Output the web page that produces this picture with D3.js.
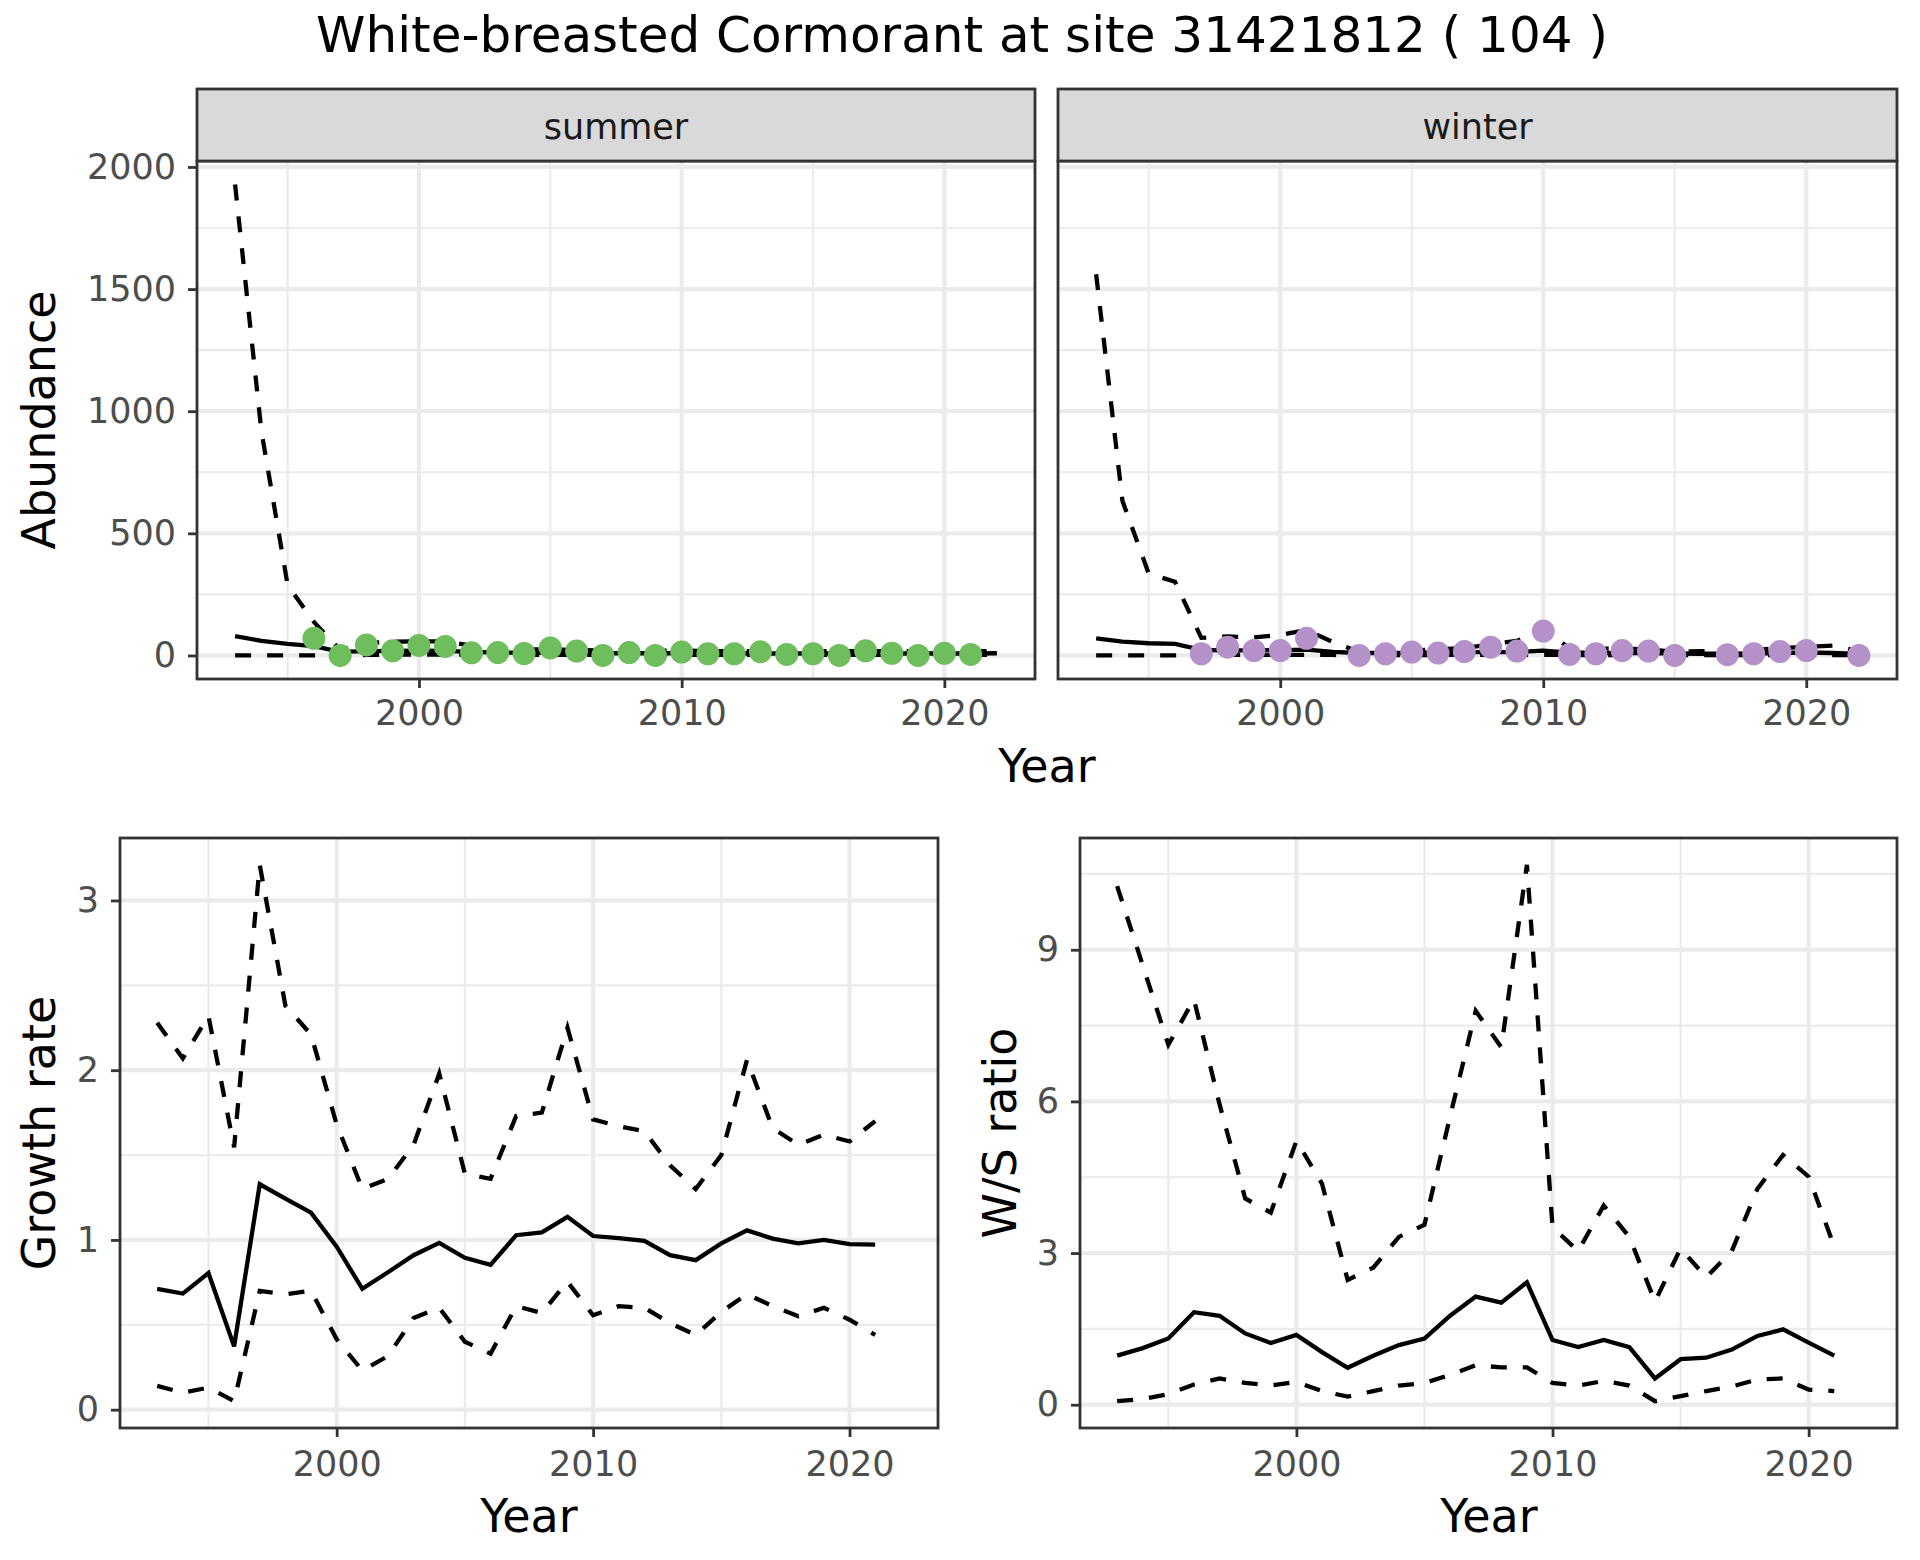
<!DOCTYPE html>
<html>
<head>
<meta charset="utf-8">
<script src="https://cdn.jsdelivr.net/npm/d3@7"></script>
<style>
  body { margin: 0; background: #fff; }
  text { font-family: "DejaVu Sans", sans-serif; }
</style>
</head>
<body>
<svg id="chart" width="1920" height="1560"></svg>
<script>
// ---- data ----
const years = [1993, 1994, 1995, 1996, 1997, 1998, 1999, 2000, 2001, 2002, 2003, 2004, 2005, 2006, 2007,
  2008, 2009, 2010, 2011, 2012, 2013, 2014, 2015, 2016, 2017, 2018, 2019, 2020, 2021, 2022]

// abundance model (mean and bounds), 1993-2022
const summerMean = [79, 60, 47, 38, 15, 18, 19, 20, 19, 15, 12, 11, 11, 10, 9, 9, 9, 9, 8, 8, 8, 8, 8, 8, 9, 8, 8, 8, 8, 9]
const summerLow = [0, 0, 0, 0, 1, 2, 3, 3, 3, 3, 2, 2, 2, 2, 2, 2, 2, 2, 2, 2, 2, 2, 2, 2, 2, 2, 2, 2, 2, 2]
const summerHigh = [1928, 920, 288, 137, 22, 52, 56, 58, 58, 40, 28, 25, 25, 22, 20, 20, 20, 20, 18, 18, 18, 18, 18, 18, 18, 18, 18, 18, 18, 18]
const winterMean = [70, 57, 50, 47, 23, 20, 22, 22, 24, 15, 10, 10, 10, 12, 14, 14, 14, 20, 12, 10, 10, 10, 8, 7, 7, 8, 10, 12, 10, 6]
const winterLow = [0, 0, 0, 0, 1, 2, 2, 2, 2, 2, 1, 1, 1, 2, 2, 2, 2, 2, 2, 1, 1, 1, 1, 1, 1, 1, 1, 1, 1, 1]
const winterHigh = [1561, 633, 335, 302, 72, 78, 74, 84, 104, 55, 15, 18, 20, 25, 30, 45, 60, 105, 30, 28, 28, 25, 15, 18, 18, 22, 30, 35, 40, 18]

// observed counts
const summerYears = [1996, 1997, 1998, 1999, 2000, 2001, 2002, 2003, 2004, 2005, 2006, 2007, 2008,
  2009, 2010, 2011, 2012, 2013, 2014, 2015, 2016, 2017, 2018, 2019, 2020, 2021]
const summerCounts = [70, 0, 43, 19, 41, 37, 11, 12, 8, 31, 18, 0, 12, 0, 14, 7, 7, 15, 4, 7, 0, 19, 9, 0, 9, 4]
const winterYears = [1997, 1998, 1999, 2000, 2001, 2003, 2004, 2005, 2006, 2007, 2008, 2009, 2010,
  2011, 2012, 2013, 2014, 2015, 2017, 2018, 2019, 2020, 2022]
const winterCounts = [7, 34, 20, 20, 70, 0, 7, 14, 10, 16, 34, 18, 100, 4, 7, 20, 18, 0, 3, 7, 16, 20, 0]

// growth rate and W/S ratio, 1993-2021
const rateYears = [1993, 1994, 1995, 1996, 1997, 1998, 1999, 2000, 2001, 2002, 2003, 2004, 2005, 2006, 2007,
  2008, 2009, 2010, 2011, 2012, 2013, 2014, 2015, 2016, 2017, 2018, 2019, 2020, 2021]
const growthMean = [0.712, 0.684, 0.805, 0.373, 1.328, 1.243, 1.161, 0.96, 0.712, 0.81, 0.91, 0.983, 0.895, 0.853, 1.028,
  1.045, 1.136, 1.023, 1.011, 0.994, 0.91, 0.881, 0.98, 1.056, 1.008, 0.98, 1.0, 0.975, 0.972]
const growthHigh = [2.28, 2.07, 2.32, 1.545, 3.21, 2.38, 2.21, 1.68, 1.3, 1.36, 1.56, 1.98, 1.39, 1.36, 1.73,
  1.75, 2.25, 1.71, 1.67, 1.64, 1.44, 1.3, 1.5, 2.06, 1.66, 1.56, 1.62, 1.58, 1.7]
const growthLow = [0.14, 0.1, 0.13, 0.05, 0.7, 0.68, 0.7, 0.415, 0.23, 0.316, 0.54, 0.6, 0.4, 0.33, 0.61,
  0.57, 0.754, 0.556, 0.61, 0.6, 0.51, 0.44, 0.576, 0.68, 0.61, 0.55, 0.6, 0.53, 0.44]
const ratioMean = [0.97, 1.12, 1.31, 1.83, 1.76, 1.41, 1.22, 1.38, 1.04, 0.73, 0.97, 1.18, 1.31, 1.76, 2.14,
  2.02, 2.42, 1.28, 1.14, 1.28, 1.14, 0.52, 0.9, 0.93, 1.09, 1.36, 1.49, 1.23, 0.97]
const ratioHigh = [10.26, 8.69, 7.12, 8.02, 5.94, 4.08, 3.8, 5.22, 4.37, 2.47, 2.71, 3.32, 3.56, 5.7, 7.79,
  7.07, 10.68, 3.51, 3.04, 3.94, 3.32, 2.04, 3.09, 2.52, 3.04, 4.27, 4.94, 4.51, 3.13]
const ratioLow = [0.07, 0.11, 0.21, 0.4, 0.52, 0.43, 0.38, 0.45, 0.27, 0.16, 0.27, 0.38, 0.43, 0.59, 0.78,
  0.74, 0.74, 0.43, 0.38, 0.47, 0.38, 0.07, 0.17, 0.27, 0.36, 0.5, 0.52, 0.3, 0.27]

// tick labels
const yearTicks = [2000, 2010, 2020]
const yearMinor = [1995, 2005, 2015]
const abundanceTicks = [0, 500, 1000, 1500, 2000]
const abundanceMinor = [250, 750, 1250, 1750]
const growthTicks = [0, 1, 2, 3]
const growthMinor = [0.5, 1.5, 2.5]
const ratioTicks = [0, 3, 6, 9]
const ratioMinor = [1.5, 4.5, 7.5, 10.5]

const summerColor = '#6FBE5E'
const winterColor = '#B491C8'

// ---- helpers ----
const svg = d3.select('#chart')
svg.append('rect').attr('width', 1920).attr('height', 1560).attr('fill', '#fff')

function expand(ext) {
  const r = ext[1] - ext[0]
  return [ext[0] - r * 0.05, ext[1] + r * 0.05]
}

function pairs(xs, ys) {
  return xs.map((d, i) => [d, ys[i]])
}

/**
 * grid, axes and border for one panel
 */
function drawPanel(x, y, xTicks, xMinor, yTicks, yMinor, showY, xPad) {
  const [x0, x1] = x.range()
  const [yb, yt] = y.range()
  const g = svg.append('g')

  g.append('rect')
    .attr('x', x0).attr('y', yt)
    .attr('width', x1 - x0).attr('height', yb - yt)
    .attr('fill', '#fff')

  g.append('g').selectAll('line').data(yMinor).join('line')
    .attr('x1', x0).attr('x2', x1)
    .attr('y1', d => y(d)).attr('y2', d => y(d))
    .attr('stroke', '#EBEBEB').attr('stroke-width', 2.2)
  g.append('g').selectAll('line').data(xMinor).join('line')
    .attr('x1', d => x(d)).attr('x2', d => x(d))
    .attr('y1', yt).attr('y2', yb)
    .attr('stroke', '#EBEBEB').attr('stroke-width', 2.2)
  g.append('g').selectAll('line').data(yTicks).join('line')
    .attr('x1', x0).attr('x2', x1)
    .attr('y1', d => y(d)).attr('y2', d => y(d))
    .attr('stroke', '#EBEBEB').attr('stroke-width', 4.2)
  g.append('g').selectAll('line').data(xTicks).join('line')
    .attr('x1', d => x(d)).attr('x2', d => x(d))
    .attr('y1', yt).attr('y2', yb)
    .attr('stroke', '#EBEBEB').attr('stroke-width', 4.2)

  const xa = g.append('g')
    .attr('transform', 'translate(0,' + yb + ')')
    .call(d3.axisBottom(x).tickValues(xTicks).tickFormat(d3.format('d'))
      .tickSize(9).tickPadding(xPad))
  styleAxis(xa)

  if (showY) {
    const ya = g.append('g')
      .attr('transform', 'translate(' + x0 + ',0)')
      .call(d3.axisLeft(y).tickValues(yTicks).tickFormat(d3.format('d'))
        .tickSize(9).tickPadding(12))
    styleAxis(ya)
  }
  return g
}

function styleAxis(a) {
  a.select('.domain').remove()
  a.selectAll('.tick line').attr('stroke', '#333333').attr('stroke-width', 2.8)
  a.selectAll('.tick text')
    .attr('fill', '#4D4D4D')
    .style('font-size', '35px')
}

function border(x, y) {
  const [x0, x1] = x.range()
  const [yb, yt] = y.range()
  svg.append('rect')
    .attr('x', x0).attr('y', yt)
    .attr('width', x1 - x0).attr('height', yb - yt)
    .attr('fill', 'none').attr('stroke', '#333333').attr('stroke-width', 2.8)
}

function drawLine(x, y, data, dashed) {
  const line = d3.line().x(d => x(d[0])).y(d => y(d[1]))
  svg.append('path')
    .datum(data)
    .attr('d', line)
    .attr('fill', 'none')
    .attr('stroke', '#000')
    .attr('stroke-width', 4.3)
    .attr('stroke-dasharray', dashed ? '16,16' : null)
}

function label(txt, x, y, size, rotate) {
  const t = svg.append('text')
    .attr('text-anchor', 'middle')
    .style('font-size', size + 'px')
    .attr('fill', '#000')
    .text(txt)
  if (rotate) t.attr('transform', `translate(${x},${y}) rotate(-90)`)
  else t.attr('x', x).attr('y', y)
}

// ---- top: abundance by season ----
const xDomain = expand(d3.extent(years))
const topMax = d3.max([...summerHigh, ...winterHigh, ...summerCounts, ...winterCounts])
const yTop = d3.scaleLinear().domain(expand([0, topMax])).range([679, 161])

const facets = [
  {name: 'summer', range: [197, 1035], mean: summerMean, low: summerLow, high: summerHigh,
    pts: summerYears, cnt: summerCounts, color: summerColor},
  {name: 'winter', range: [1058, 1897], mean: winterMean, low: winterLow, high: winterHigh,
    pts: winterYears, cnt: winterCounts, color: winterColor}
]

facets.forEach(function (f, i) {
  const x = d3.scaleLinear().domain(xDomain).range(f.range)
  drawPanel(x, yTop, yearTicks, yearMinor, abundanceTicks, abundanceMinor, i === 0, 12)
  drawLine(x, yTop, pairs(years, f.low), true)
  drawLine(x, yTop, pairs(years, f.high), true)
  drawLine(x, yTop, pairs(years, f.mean), false)
  svg.append('g').selectAll('circle')
    .data(pairs(f.pts, f.cnt))
    .join('circle')
    .attr('cx', d => x(d[0]))
    .attr('cy', d => yTop(d[1]))
    .attr('r', 11.5)
    .attr('fill', f.color)
  border(x, yTop)

  // strip
  svg.append('rect')
    .attr('x', f.range[0]).attr('y', 89)
    .attr('width', f.range[1] - f.range[0]).attr('height', 72)
    .attr('fill', '#D9D9D9').attr('stroke', '#333333').attr('stroke-width', 2.8)
  svg.append('text')
    .attr('x', (f.range[0] + f.range[1]) / 2).attr('y', 139)
    .attr('text-anchor', 'middle')
    .attr('fill', '#1A1A1A')
    .style('font-size', '35px')
    .text(f.name)
})

label('White-breasted Cormorant at site 31421812 ( 104 )', 962, 52, 50)
label('Abundance', 55, 420, 46, true)
label('Year', 1047, 782, 46)

// ---- bottom left: growth rate ----
const xGr = d3.scaleLinear().domain(xDomain).range([120, 938])
const yGr = d3.scaleLinear().domain(expand([d3.min(growthLow), d3.max(growthHigh)])).range([1428, 838])
drawPanel(xGr, yGr, yearTicks, yearMinor, growthTicks, growthMinor, true, 14)
drawLine(xGr, yGr, pairs(rateYears, growthHigh), true)
drawLine(xGr, yGr, pairs(rateYears, growthLow), true)
drawLine(xGr, yGr, pairs(rateYears, growthMean), false)
border(xGr, yGr)
label('Growth rate', 55, 1133, 46, true)
label('Year', 529, 1532, 46)

// ---- bottom right: W/S ratio ----
const xWs = d3.scaleLinear().domain(xDomain).range([1080, 1897])
const yWs = d3.scaleLinear().domain(expand([d3.min(ratioLow), d3.max(ratioHigh)])).range([1428, 838])
drawPanel(xWs, yWs, yearTicks, yearMinor, ratioTicks, ratioMinor, true, 14)
drawLine(xWs, yWs, pairs(rateYears, ratioHigh), true)
drawLine(xWs, yWs, pairs(rateYears, ratioLow), true)
drawLine(xWs, yWs, pairs(rateYears, ratioMean), false)
border(xWs, yWs)
label('W/S ratio', 1016, 1133, 46, true)
label('Year', 1489, 1532, 46)
</script>
</body>
</html>
